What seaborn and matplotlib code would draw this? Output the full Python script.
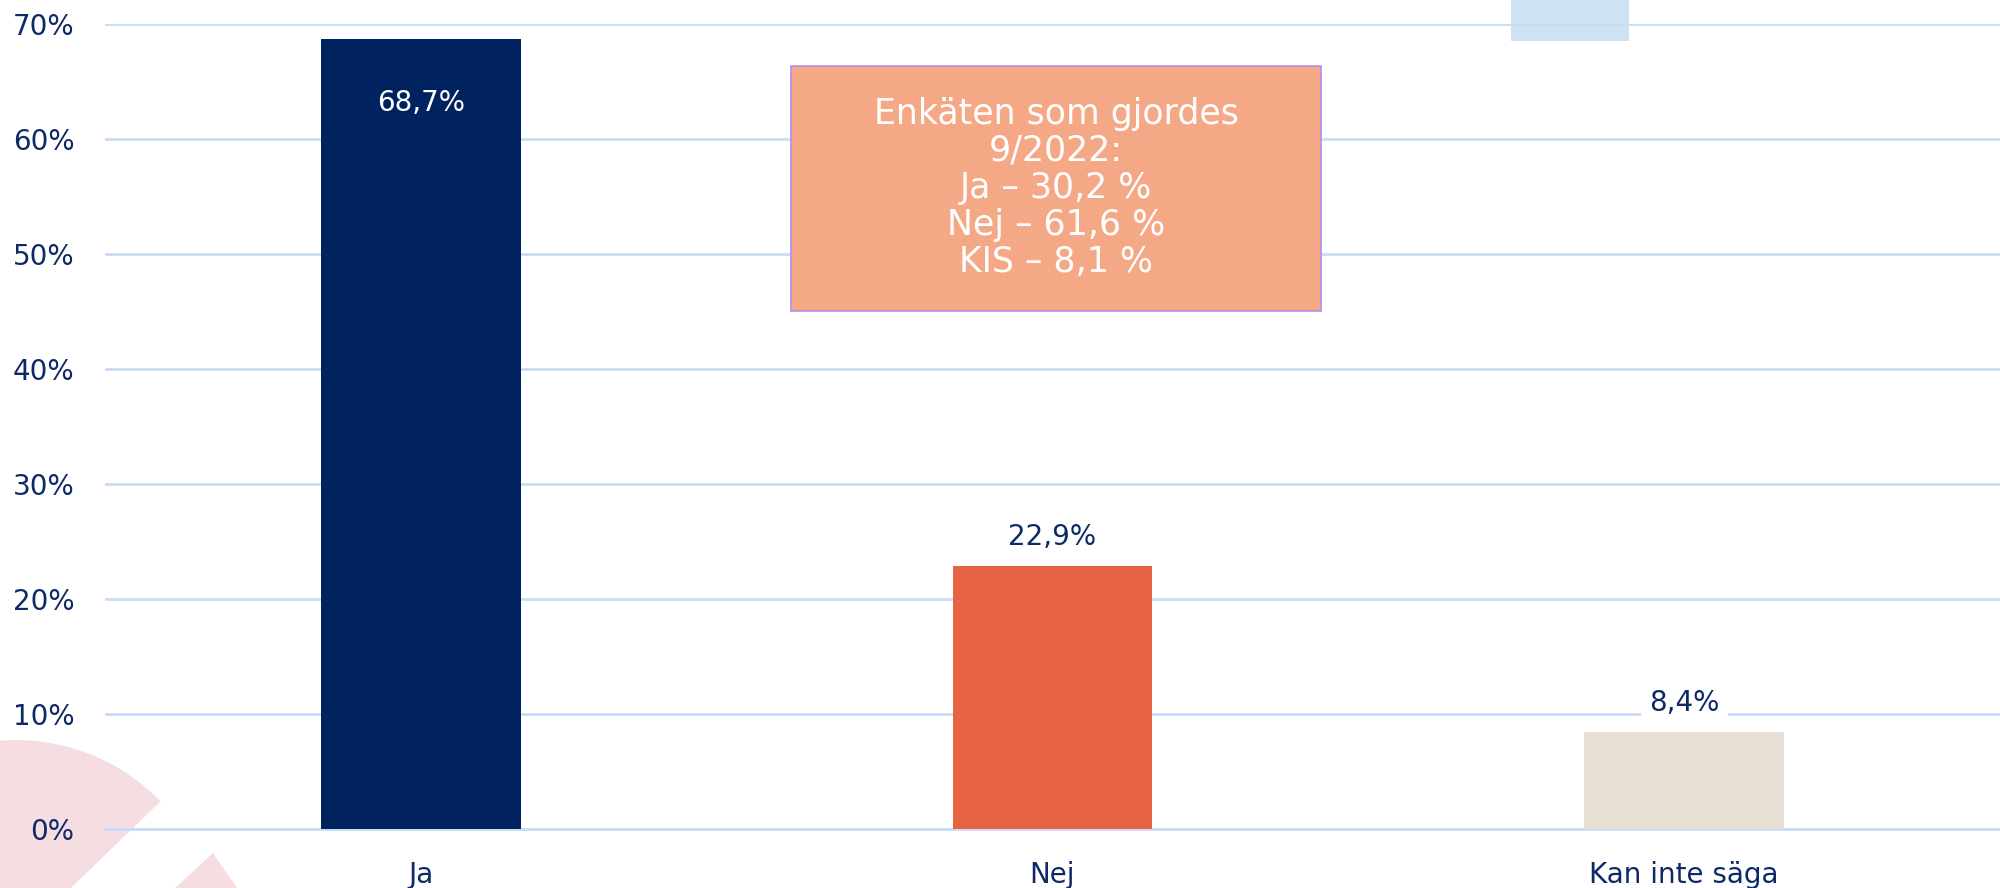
import matplotlib
matplotlib.use("Agg")
import matplotlib.pyplot as plt
import seaborn as sns
import pandas as pd
from matplotlib.patches import Wedge, Rectangle
from matplotlib.transforms import IdentityTransform

categories = ["Ja", "Nej", "Kan inte säga"]
values = [68.7, 22.9, 8.4]
value_labels = ["68,7%", "22,9%", "8,4%"]
bar_colors = ["#002360", "#E66443", "#E7DFD3"]
yticks = [0, 10, 20, 30, 40, 50, 60, 70]
ytick_labels = ["0%", "10%", "20%", "30%", "40%", "50%", "60%", "70%"]
box_text = "Enkäten som gjordes\n9/2022:\nJa – 30,2 %\nNej – 61,6 %\nKIS – 8,1 %"

navy = "#0E2A66"
grid_c = "#C9DCF6"

sns.set_theme(style="white")
plt.rcParams["font.family"] = ["DejaVu Sans"]

fig = plt.figure(figsize=(20, 8.88), dpi=100)
fig.patch.set_facecolor("white")

# decorative shapes (pixel coordinates, y up)
fig.patches.append(Wedge((16, -53), 201, 44, 200, facecolor="#F5DDE1",
                         edgecolor="none", transform=IdentityTransform(), zorder=0))
fig.patches.append(Wedge((213, 35), 120, 222.6, 304.4, facecolor="#F5DDE1",
                         edgecolor="none", transform=IdentityTransform(), zorder=0))
fig.patches.append(Rectangle((1511, 847), 118, 45, facecolor="#CFE2F3",
                             edgecolor="none", transform=IdentityTransform(), zorder=0))

ax = fig.add_axes([0.0525, 0.0664, 0.9475, 0.9066])
ax.set_zorder(1)
ax.set_facecolor("none")

df = pd.DataFrame({"cat": categories, "val": values})
sns.barplot(data=df, x="cat", y="val", hue="cat", palette=bar_colors,
            width=0.316, dodge=False, legend=False, ax=ax, saturation=1, zorder=3,
            linewidth=0)

ax.set_xlim(-0.5, 2.5)
ax.set_ylim(0, 70)
ax.set_yticks(yticks)
ax.set_yticklabels(ytick_labels)
for sp in ax.spines.values():
    sp.set_visible(False)
ax.yaxis.grid(True, color=grid_c, linewidth=2, zorder=1)
ax.axhline(0, color=grid_c, linewidth=2, clip_on=False, zorder=1)
ax.set_axisbelow(True)
ax.tick_params(axis="y", length=0, pad=22, labelsize=20, labelcolor=navy)
ax.tick_params(axis="x", length=0, pad=23, labelsize=20, labelcolor=navy)
ax.set_xlabel("")
ax.set_ylabel("")

# value labels
ax.annotate(value_labels[0], (0, values[0]), xytext=(0, -46), textcoords="offset points",
            ha="center", va="center", color="white", fontsize=20, zorder=5)
ax.annotate(value_labels[1], (1, values[1]), xytext=(0, 21), textcoords="offset points",
            ha="center", va="center", color=navy, fontsize=20, zorder=5)
ax.annotate(value_labels[2], (2, values[2]), xytext=(0, 21), textcoords="offset points",
            ha="center", va="center", color=navy, fontsize=20, zorder=5,
            bbox=dict(boxstyle="square,pad=0.3", facecolor="white", edgecolor="none"))

# annotation box
box = Rectangle((791, 888 - 311), 530, 245, facecolor="#F4A886",
                edgecolor="#B58CF0", linewidth=1.2,
                transform=IdentityTransform(), zorder=4)
fig.patches.append(box)
fig.text((791 + 265) / 2000, (888 - 188) / 888, box_text, ha="center", va="center",
         color="white", fontsize=25, linespacing=1.12, zorder=6)

fig.savefig("out.png", dpi=100, facecolor="white")
